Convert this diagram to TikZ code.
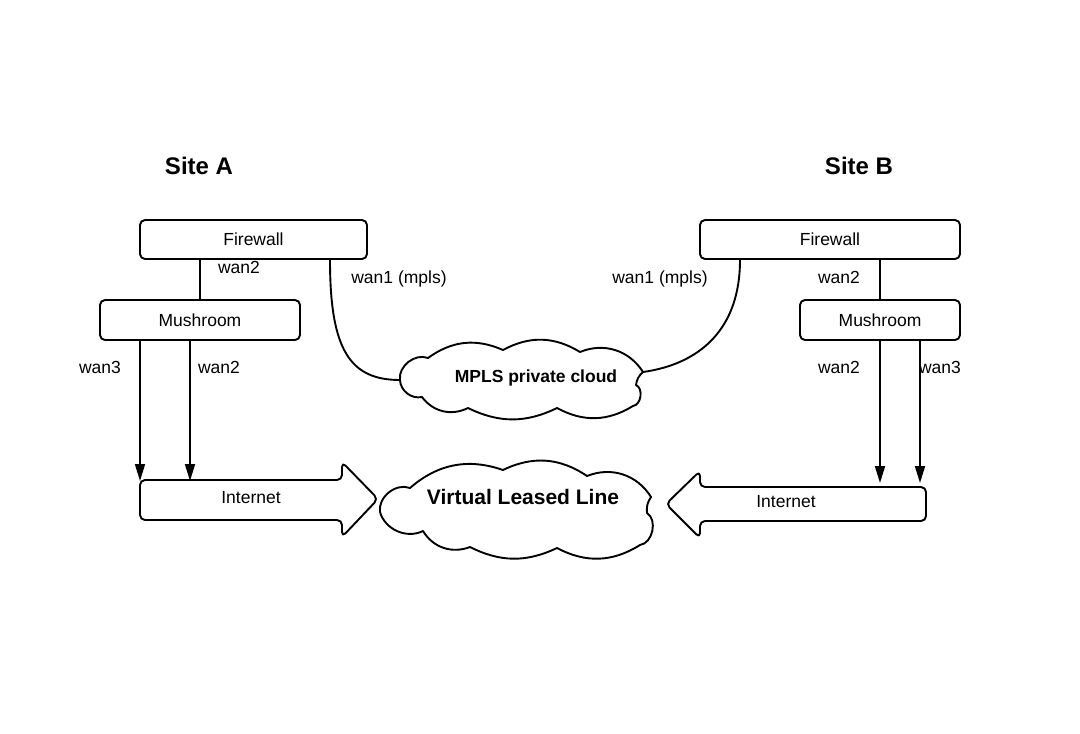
\documentclass[tikz,border=0pt]{standalone}
\usepackage{fontspec}
\setmainfont{Liberation Sans}
\usetikzlibrary{arrows.meta,calc}
\begin{document}
\begin{tikzpicture}[x=1pt,y=1pt,
  line width=1.9pt, line join=round,
  txt/.style={font=\fontsize{17.5}{21}\selectfont},
  box/.style={draw, rounded corners=5pt, inner sep=0pt, txt},
  lbl/.style={inner sep=0pt, txt, text height=12.5pt, text depth=0pt},
  title/.style={inner sep=0pt, font=\bfseries\fontsize{24}{28}\selectfont},
  cloudtxt/.style={inner sep=0pt, font=\bfseries\fontsize{17.5}{21}\selectfont},
  arr/.style={-{Triangle[length=17pt,width=10pt]}},
  bigarrow/.style={draw, rounded corners=5pt}
]
\useasboundingbox (0,0) rectangle (1080,-734);

% titles
\node[title] (siteA) at (199,-166) {Site A};
\node[title] (siteB) at (859,-166) {Site B};

% boxes
\node[box, minimum width=227pt, minimum height=39pt] (fwA) at (253.5,-239.5) {Firewall};
\node[box, minimum width=200pt, minimum height=40pt] (mushA) at (200,-320) {Mushroom};
\node[box, minimum width=260pt, minimum height=39pt] (fwB) at (830,-239.5) {Firewall};
\node[box, minimum width=160pt, minimum height=40pt] (mushB) at (880,-320) {Mushroom};

% firewall - mushroom
\draw (mushA.north |- fwA.south) -- (mushA.north);
\draw (mushB.north |- fwB.south) -- (mushB.north);
\node[lbl] (lwA) at (239,-267) {wan2};
\node[lbl] (lwB) at (839,-277) {wan2};

% MPLS cloud
\coordinate (mplsL) at (400,-380);
\coordinate (mplsR) at (643,-372);
\draw (mplsL) to[bend left=60] (428,-358)
  to[bend left=30] (503,-350)
  to[bend left=30] (580,-352)
  to[bend left=40] (mplsR)
  to[bend right=20] (636,-385)
  to[bend left=75] (633,-406)
  to[bend left=30] (557,-408)
  to[bend left=26] (468,-408)
  to[bend left=40] (422,-397)
  to[bend left=50] (mplsL) -- cycle;
\node[cloudtxt] (mpls) at (536,-378) {MPLS private cloud};

% wan1 curves
\draw ([xshift=76.5pt]fwA.south) .. controls (330,-350) and (350,-380) .. (mplsL);
\draw (mplsR) .. controls (700,-364) and (740,-329) .. ([xshift=-90pt]fwB.south);
\node[lbl] (lmA) at (399,-277) {wan1 (mpls)};
\node[lbl] (lmB) at (660,-277) {wan1 (mpls)};

% VLL cloud
\coordinate (vllL) at (380,-512);
\draw (vllL) to[bend left=60] (410,-488)
  to[bend left=30] (503,-470)
  to[bend left=30] (587,-476)
  to[bend left=40] (651,-497)
  to[bend right=20] (647,-513)
  to[bend left=70] (640,-545)
  to[bend left=30] (557,-548)
  to[bend left=26] (470,-547)
  to[bend left=40] (423,-531)
  to[bend left=50] (vllL) -- cycle;
\node[cloudtxt, font=\bfseries\fontsize{21}{25}\selectfont] (vll) at (523,-497) {Virtual Leased Line};

% Internet A (right arrow)
\draw[bigarrow] (140,-480) -- (342,-480) -- (342,-462) -- (378,-499) -- (342,-537) -- (342,-520) -- (140,-520) -- cycle;
\node[txt, inner sep=0pt] (netA) at (251,-498) {Internet};
% Internet B (left arrow)
\draw[bigarrow] (926,-487) -- (700,-487) -- (700,-471) -- (666,-504) -- (700,-538) -- (700,-521) -- (926,-521) -- cycle;
\node[txt, inner sep=0pt] (netB) at (786,-502) {Internet};

% mushroom -> internet arrows
\coordinate (inA1) at (140,-481);
\coordinate (inA2) at (190,-481);
\coordinate (inB1) at (880,-483);
\coordinate (inB2) at (920,-483);
\draw[arr] (mushA.south -| inA1) -- (inA1);
\draw[arr] (mushA.south -| inA2) -- (inA2);
\draw[arr] (mushB.south -| inB1) -- (inB1);
\draw[arr] (mushB.south -| inB2) -- (inB2);
\node[lbl] (l3A) at (100,-367) {wan3};
\node[lbl] (l2A) at (219,-367) {wan2};
\node[lbl] (l2B) at (839,-367) {wan2};
\node[lbl] (l3B) at (940,-367) {wan3};
\end{tikzpicture}
\end{document}
